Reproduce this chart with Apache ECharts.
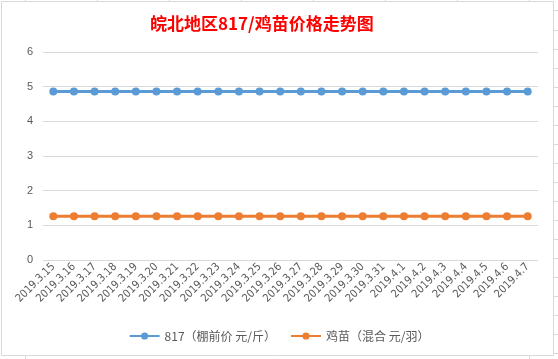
<!DOCTYPE html>
<html>
<head>
<meta charset="utf-8">
<script src="https://cdn.jsdelivr.net/npm/echarts@6/dist/echarts.min.js"></script>
<style>html,body{margin:0;padding:0;background:#fff;}#c{width:558px;height:359px;}</style>
</head>
<body>
<div id="c"></div>
<script>
var titleText = '皖北地区817/鸡苗价格走势图';
var categories = ['2019.3.15','2019.3.16','2019.3.17','2019.3.18','2019.3.19','2019.3.20','2019.3.21','2019.3.22','2019.3.23','2019.3.24','2019.3.25','2019.3.26','2019.3.27','2019.3.28','2019.3.29','2019.3.30','2019.3.31','2019.4.1','2019.4.2','2019.4.3','2019.4.4','2019.4.5','2019.4.6','2019.4.7'];
var seriesNames = ['817（棚前价 元/斤）', '鸡苗（混合 元/羽）'];
var price817 = [4.86,4.86,4.86,4.86,4.86,4.86,4.86,4.86,4.86,4.86,4.86,4.86,4.86,4.86,4.86,4.86,4.86,4.86,4.86,4.86,4.86,4.86,4.86,4.86];
var priceChick = [1.26,1.26,1.26,1.26,1.26,1.26,1.26,1.26,1.26,1.26,1.26,1.26,1.26,1.26,1.26,1.26,1.26,1.26,1.26,1.26,1.26,1.26,1.26,1.26];
var yTicks = [0,1,2,3,4,5,6];

var chart = echarts.init(document.getElementById('c'), null, {renderer:'canvas'});
var gridStroke = '#d9d9d9';
var graphics = [
  {type:'rect', shape:{x:1.5,y:1.5,width:552,height:354}, style:{fill:null, stroke:gridStroke, lineWidth:1}, silent:true}
];
// spreadsheet gridline fragments outside the chart box
[25,97,169,241,313,385,457,529].forEach(function(x){
  graphics.push({type:'line', shape:{x1:x+0.5,y1:0,x2:x+0.5,y2:1}, style:{stroke:gridStroke,lineWidth:1}, silent:true});
});
[10,30,49,68,87,106,125,144,163,182,201,220,239,258,277,296,315,334,353].forEach(function(y){
  graphics.push({type:'line', shape:{x1:554,y1:y+0.5,x2:558,y2:y+0.5}, style:{stroke:gridStroke,lineWidth:1}, silent:true});
});
graphics.push({type:'line', shape:{x1:25.5,y1:356,x2:25.5,y2:359}, style:{stroke:gridStroke,lineWidth:1}, silent:true});
graphics.push({type:'line', shape:{x1:529.5,y1:356,x2:529.5,y2:359}, style:{stroke:gridStroke,lineWidth:1}, silent:true});

chart.setOption({
  backgroundColor:'#fff',
  animation:false,
  title:{
    text:titleText, left:145, top:10,
    textStyle:{color:'#ff0000', fontSize:17, fontWeight:'bold', fontFamily:'"Noto Sans CJK SC", sans-serif'}
  },
  grid:{left:43, right:20, top:52, bottom:99, containLabel:false},
  legend:{
    bottom:12, left:'center', itemWidth:30, itemHeight:9, itemGap:14,
    textStyle:{color:'#595959', fontSize:12, fontFamily:'"Noto Sans CJK SC", sans-serif'},
    data:seriesNames
  },
  xAxis:{
    type:'category', data:categories, boundaryGap:true,
    axisLine:{show:false}, axisTick:{show:false},
    axisLabel:{rotate:45, interval:0, color:'#595959', fontSize:11, margin:5, fontFamily:'"DejaVu Sans Condensed", "Liberation Sans", sans-serif'}
  },
  yAxis:{
    type:'value', min:yTicks[0], max:yTicks[yTicks.length-1], interval:1,
    axisLine:{show:false}, axisTick:{show:false},
    axisLabel:{color:'#595959', fontSize:11, margin:10},
    splitLine:{lineStyle:{color:'#d9d9d9', width:1}}
  },
  series:[
    {name:seriesNames[0], type:'line', data:price817, symbol:'circle', symbolSize:8,
     itemStyle:{color:'#5b9bd5'}, lineStyle:{color:'#5b9bd5', width:3}},
    {name:seriesNames[1], type:'line', data:priceChick, symbol:'circle', symbolSize:8,
     itemStyle:{color:'#ed7d31'}, lineStyle:{color:'#ed7d31', width:3}}
  ],
  graphic:graphics
});
</script>
</body>
</html>
